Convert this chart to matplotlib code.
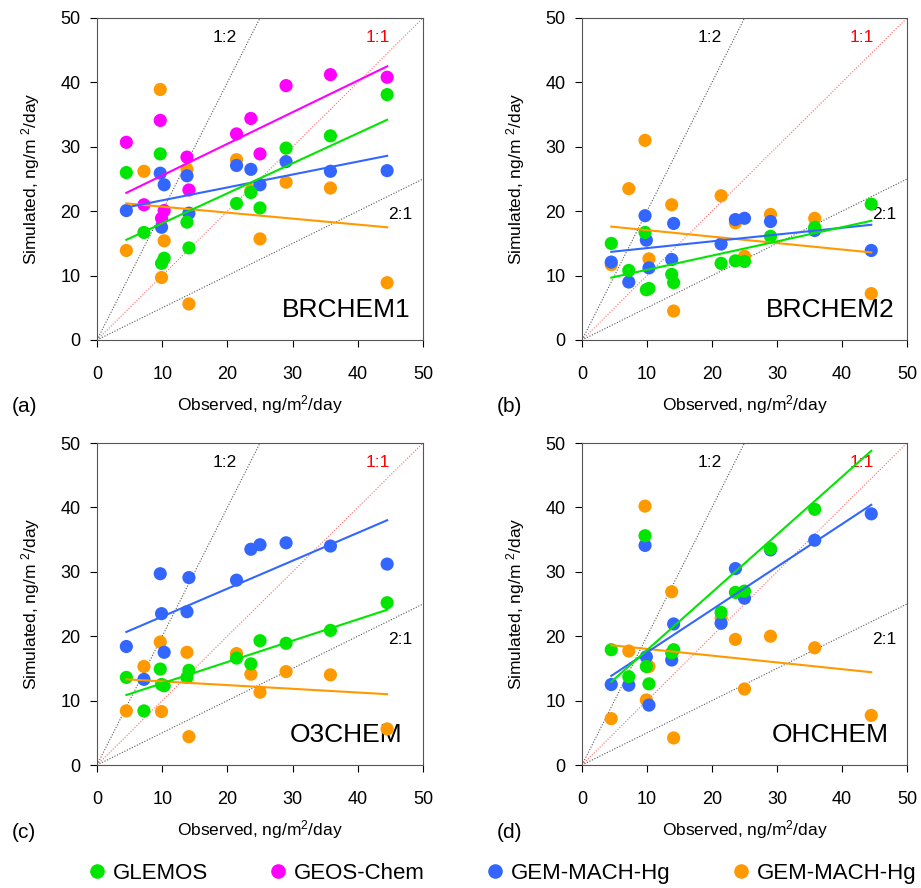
import matplotlib
matplotlib.use("Agg")
import matplotlib.pyplot as plt
from matplotlib.lines import Line2D
import numpy as np

plt.rcParams['font.family'] = ['Liberation Sans', 'DejaVu Sans']
plt.rcParams['mathtext.fontset'] = 'custom'
plt.rcParams['mathtext.rm'] = 'Liberation Sans'
plt.rcParams['mathtext.it'] = 'Liberation Sans'

# Observed deposition at stations (ng/m2/day)
observed = [4.5, 7.2, 9.7, 9.9, 10.3, 13.8, 14.1, 21.4, 23.6, 25.0, 29.0, 35.8, 44.5]

N = None
# Panel (a) BRCHEM1
a_glemos = [26.0, 16.7, 28.9, 11.9, 12.7, 18.3, 14.3, 21.2, 22.9, 20.5, 29.8, 31.7, 38.1]
a_geos = [30.7, 21.0, 34.1, 18.9, 20.1, 28.4, 23.3, 32.0, 34.4, 28.9, 39.5, 41.2, 40.8]
a_gem1 = [20.1, N, 25.9, 17.5, 24.1, 25.5, 19.7, 27.1, 26.5, 24.1, 27.7, 26.2, 26.3]
a_gem2 = [13.9, 26.2, 38.9, 9.7, 15.4, 26.5, 5.6, 28.0, 23.2, 15.7, 24.5, 23.6, 8.9]
# Panel (b) BRCHEM2
b_glemos = [15.0, 10.8, 16.7, 7.8, 8.0, 10.2, 8.9, 11.9, 12.3, 12.2, 16.1, 17.5, 21.1]
b_gem1 = [12.1, 9.0, 19.3, 15.5, 11.2, 12.5, 18.1, 14.9, 18.7, 18.9, 18.4, 17.0, 13.9]
b_gem2 = [11.7, 23.5, 31.0, N, 12.6, 21.0, 4.5, 22.4, 18.2, 13.0, 19.5, 18.9, 7.2]
# Panel (c) O3CHEM
c_glemos = [13.6, 8.4, 14.9, 12.5, 12.3, 13.6, 14.7, 16.6, 15.7, 19.3, 18.9, 20.9, 25.2]
c_gem1 = [18.4, 13.3, 29.7, 23.5, 17.5, 23.8, 29.1, 28.7, 33.5, 34.2, 34.5, 34.0, 31.2]
c_gem2 = [8.4, 15.3, 19.1, 8.3, N, 17.5, 4.4, 17.3, 14.1, 11.3, 14.5, 14.0, 5.6]
# Panel (d) OHCHEM
d_glemos = [17.9, 13.7, 35.6, 15.3, 12.6, 17.4, 17.9, 23.7, 26.8, 27.0, 33.6, 39.7, N]
d_gem1 = [12.5, 12.4, 34.1, 16.8, 9.3, 16.3, 21.9, 22.0, 30.5, 25.9, 33.4, 34.9, 39.0]
d_gem2 = [7.2, 17.7, 40.2, 10.1, 15.3, 26.9, 4.2, 22.8, 19.5, 11.8, 20.0, 18.2, 7.7]

# Regression lines (slope, intercept)
a_fit = {'GLEMOS': (0.466, 13.46), 'GEOS-Chem': (0.491, 20.64),
         'GEM1': (0.2005, 19.68), 'GEM2': (-0.0927, 21.63)}
b_fit = {'GLEMOS': (0.2206, 8.69), 'GEM1': (0.105, 13.22), 'GEM2': (-0.1003, 18.06)}
c_fit = {'GLEMOS': (0.3308, 9.38), 'GEM1': (0.4336, 18.71), 'GEM2': (-0.0576, 13.56)}
d_fit = {'GLEMOS': (0.897, 8.87), 'GEM1': (0.664, 10.85), 'GEM2': (-0.105, 19.08)}

legend_labels = ['GLEMOS', 'GEOS-Chem', 'GEM-MACH-Hg', 'GEM-MACH-Hg']
panel_names = ['BRCHEM1', 'BRCHEM2', 'O3CHEM', 'OHCHEM']
panel_letters = ['(a)', '(b)', '(c)', '(d)']

colors = {'GLEMOS': '#00E600', 'GEOS-Chem': '#FF00FF', 'GEM1': '#3366FF', 'GEM2': '#FF9900'}
order = ['GEM2', 'GEM1', 'GEOS-Chem', 'GLEMOS']

panels = [
    {'GLEMOS': a_glemos, 'GEOS-Chem': a_geos, 'GEM1': a_gem1, 'GEM2': a_gem2},
    {'GLEMOS': b_glemos, 'GEM1': b_gem1, 'GEM2': b_gem2},
    {'GLEMOS': c_glemos, 'GEM1': c_gem1, 'GEM2': c_gem2},
    {'GLEMOS': d_glemos, 'GEM1': d_gem1, 'GEM2': d_gem2},
]
fits = [a_fit, b_fit, c_fit, d_fit]

W, H = 921, 888
fig = plt.figure(figsize=(W / 100, H / 100), dpi=100)

# axes boxes in pixels: left, top, right, bottom
boxes = [(97, 18, 423, 340), (582, 18, 907, 340), (97, 443, 423, 765), (582, 443, 907, 765)]

obs = np.array(observed)
for i, (l, t, r, b) in enumerate(boxes):
    ax = fig.add_axes([l / W, 1 - b / H, (r - l) / W, (b - t) / H])
    ax.set_xlim(0, 50)
    ax.set_ylim(0, 50)
    ref = np.array([0, 50])
    ax.plot(ref, ref, ls=(0, (1, 1.5)), color='#FF6666', lw=0.8, zorder=1)
    ax.plot(ref / 2, ref, ls=(0, (1, 1.5)), color='#555555', lw=0.8, zorder=1)
    ax.plot(ref, ref / 2, ls=(0, (1, 1.5)), color='#555555', lw=0.8, zorder=1)
    ax.text(19.6, 47.0, '1:2', fontsize=12.5, ha='center', va='center')
    ax.text(43.0, 47.0, '1:1', fontsize=12.5, ha='center', va='center', color='#FF0000')
    ax.text(46.5, 19.5, '2:1', fontsize=12.5, ha='center', va='center')
    ax.text(38.2, 4.6, panel_names[i], fontsize=19, ha='center', va='center')

    data = panels[i]
    for key in order:
        if key not in data:
            continue
        vals = np.array([np.nan if v is None else v for v in data[key]], dtype=float)
        m = ~np.isnan(vals)
        ax.scatter(obs[m], vals[m], s=90, color=colors[key], edgecolors='none', zorder=3)
    for key in order:
        if key not in fits[i]:
            continue
        slope, icpt = fits[i][key]
        xs = np.array([obs.min(), obs.max()])
        ax.plot(xs, slope * xs + icpt, color=colors[key], lw=1.5, zorder=4)

    ticks = [0, 10, 20, 30, 40, 50]
    ax.set_xticks(ticks)
    ax.set_yticks(ticks)
    ax.tick_params(direction='out', length=5, width=0.8, labelsize=13, colors='black')
    ax.tick_params(axis='x', pad=14)
    ax.tick_params(axis='y', pad=7)
    for s in ax.spines.values():
        s.set_color('#555555')
        s.set_linewidth(0.8)
    ax.set_xlabel('Observed, ng/m$^2$/day', fontsize=12.5, labelpad=7)
    ax.set_ylabel('Simulated, ng/m $^2$/day', fontsize=12.5, labelpad=13)

    fig.text((l - 73) / W, 1 - (b + 67) / H, panel_letters[i], fontsize=15,
             ha='center', va='center')

handles = [Line2D([], [], ls='none', marker='o', markersize=10.5, markeredgewidth=0,
                  color=colors[k]) for k in ['GLEMOS', 'GEOS-Chem', 'GEM1', 'GEM2']]
fig.legend(handles, legend_labels, loc='center left', bbox_to_anchor=(81.5 / W, 1 - 873 / H),
           ncol=4, frameon=False, fontsize=16, handlelength=0.6, handletextpad=0.42,
           columnspacing=2.85, borderaxespad=0)

fig.savefig('out.png', dpi=100)
